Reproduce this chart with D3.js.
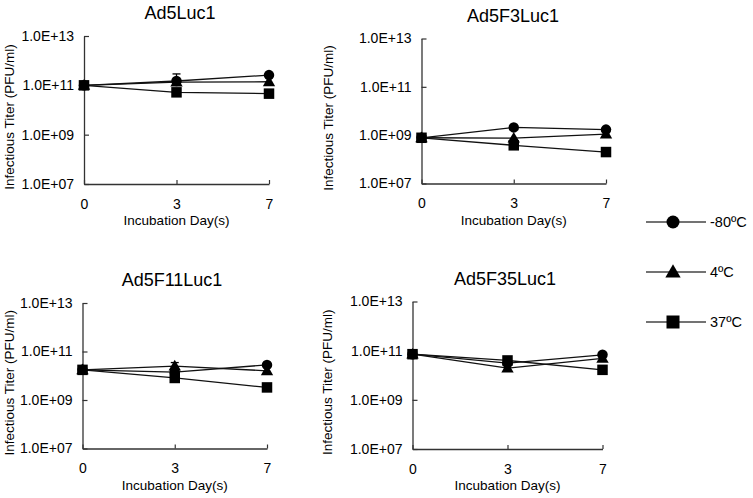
<!DOCTYPE html>
<html>
<head>
<meta charset="utf-8">
<script src="https://cdn.jsdelivr.net/npm/d3@7"></script>
<style>
  body { margin: 0; background: #fff; }
  svg { display: block; font-family: "Liberation Sans", Arial, sans-serif; }
</style>
</head>
<body>
<div id="chart"></div>
<script>
// categories (x) and series
const days = ["0", "3", "7"];
const seriesNames = ["-80ºC", "4ºC", "37ºC"];
const yTicks = [1e7, 1e9, 1e11, 1e13];
const panelNames = ["Ad5Luc1", "Ad5F3Luc1", "Ad5F11Luc1", "Ad5F35Luc1"];

// infectious titer (PFU/ml)
const ad5Luc1_m80 = [1.0e11, 1.5e11, 2.6e11];
const ad5Luc1_4 = [1.0e11, 1.35e11, 1.4e11];
const ad5Luc1_37 = [1.0e11, 5.2e10, 4.6e10];

const ad5F3Luc1_m80 = [7.8e8, 2.1e9, 1.7e9];
const ad5F3Luc1_4 = [7.8e8, 7.5e8, 1.1e9];
const ad5F3Luc1_37 = [7.8e8, 3.8e8, 2.0e8];

const ad5F11Luc1_m80 = [1.75e10, 1.4e10, 2.8e10];
const ad5F11Luc1_4 = [1.75e10, 2.5e10, 1.6e10];
const ad5F11Luc1_37 = [1.75e10, 8.1e9, 3.3e9];

const ad5F35Luc1_m80 = [7.2e10, 3.1e10, 6.8e10];
const ad5F35Luc1_4 = [7.2e10, 1.95e10, 4.9e10];
const ad5F35Luc1_37 = [7.2e10, 4.0e10, 1.66e10];

// upper error bars that can be seen
const errorBars = [
  { panel: 0, series: 0, day: "3", upper: 2.9e11 },
  { panel: 2, series: 1, day: "3", upper: 3.5e10 }
];

const panelData = [
  [ad5Luc1_m80, ad5Luc1_4, ad5Luc1_37],
  [ad5F3Luc1_m80, ad5F3Luc1_4, ad5F3Luc1_37],
  [ad5F11Luc1_m80, ad5F11Luc1_4, ad5F11Luc1_37],
  [ad5F35Luc1_m80, ad5F35Luc1_4, ad5F35Luc1_37]
];

// layout of each panel's plot area
const layout = [
  { left: 84, top: 36, width: 185, height: 148, yLab: 9.5, titleX: 180 },
  { left: 421.5, top: 38.5, width: 184.5, height: 145, yLab: 328.5, titleX: 513 },
  { left: 82.5, top: 303, width: 184.5, height: 145.5, yLab: 9.5, titleX: 172 },
  { left: 412.5, top: 301.5, width: 190, height: 147.5, yLab: 327.5, titleX: 505 }
];

const W = 753, H = 498;
const svg = d3.select("#chart").append("svg")
  .attr("width", W)
  .attr("height", H);

const fmt = d => "1.0E+" + String(Math.round(Math.log10(d))).padStart(2, "0");

function marker(sel, kind, size) {
  if (kind === 0) {
    sel.append("circle").attr("r", size / 2).attr("fill", "#000");
  } else if (kind === 1) {
    const s = d3.symbol().type(d3.symbolTriangle).size(size * size * 0.6);
    sel.append("path").attr("d", s).attr("fill", "#000")
      .attr("transform", "translate(0," + (size * 0.08) + ")");
  } else {
    sel.append("rect")
      .attr("x", -size / 2).attr("y", -size / 2)
      .attr("width", size).attr("height", size)
      .attr("fill", "#000");
  }
}

panelNames.forEach((name, p) => {
  const L = layout[p];
  const g = svg.append("g")
    .attr("transform", "translate(" + L.left + "," + L.top + ")");

  const x = d3.scalePoint().domain(days).range([0, L.width]);
  const y = d3.scaleLog().domain([1e7, 1e13]).range([L.height, 0]);

  // axes
  const yAxis = d3.axisLeft(y)
    .tickValues(yTicks)
    .tickFormat(fmt)
    .tickSizeInner(-5)
    .tickSizeOuter(0)
    .tickPadding(10);
  const xAxis = d3.axisBottom(x)
    .tickSizeInner(-4)
    .tickSizeOuter(0)
    .tickPadding(15);

  const ya = g.append("g").call(yAxis);
  const xa = g.append("g").attr("transform", "translate(0," + L.height + ")").call(xAxis);
  [ya, xa].forEach(a => {
    a.select(".domain").attr("stroke", "#333").attr("stroke-width", 1.3);
    a.selectAll(".tick line").attr("stroke", "#333").attr("stroke-width", 1.2);
    a.selectAll(".tick text")
      .attr("fill", "#000")
      .style("font-size", "14px")
      .style("font-family", "'Liberation Sans', Arial, sans-serif");
  });

  // lines and markers
  const line = d3.line()
    .x((d, i) => x(days[i]))
    .y(d => y(d));

  panelData[p].forEach((vals, s) => {
    g.append("path")
      .datum(vals)
      .attr("d", line)
      .attr("fill", "none")
      .attr("stroke", "#111")
      .attr("stroke-width", 1.3);
  });

  errorBars.filter(e => e.panel === p).forEach(e => {
    const v = panelData[p][e.series][days.indexOf(e.day)];
    const cx = x(e.day);
    g.append("line")
      .attr("x1", cx).attr("x2", cx)
      .attr("y1", y(v)).attr("y2", y(e.upper))
      .attr("stroke", "#000").attr("stroke-width", 1.3);
    g.append("line")
      .attr("x1", cx - 4).attr("x2", cx + 4)
      .attr("y1", y(e.upper)).attr("y2", y(e.upper))
      .attr("stroke", "#000").attr("stroke-width", 1.3);
  });

  panelData[p].forEach((vals, s) => {
    vals.forEach((v, i) => {
      const m = g.append("g")
        .attr("transform", "translate(" + x(days[i]) + "," + y(v) + ")");
      marker(m, s, 10.5);
    });
  });

  // titles
  svg.append("text")
    .attr("x", L.titleX)
    .attr("y", L.top - 17)
    .attr("text-anchor", "middle")
    .style("font-size", "18px")
    .text(name);

  svg.append("text")
    .attr("x", L.left + x("3"))
    .attr("y", L.top + L.height + 41)
    .attr("text-anchor", "middle")
    .style("font-size", "13.5px")
    .text("Incubation Day(s)");

  svg.append("text")
    .attr("transform", "translate(" + L.yLab + "," + (L.top + L.height / 2 + 7) + ") rotate(-90)")
    .attr("dy", "0.35em")
    .attr("text-anchor", "middle")
    .style("font-size", "13.5px")
    .text("Infectious Titer (PFU/ml)");
});

// legend
const legendY = [222, 272, 322];
const legend = svg.append("g");
seriesNames.forEach((n, s) => {
  const row = legend.append("g").attr("transform", "translate(0," + legendY[s] + ")");
  row.append("line")
    .attr("x1", 646).attr("x2", 706)
    .attr("stroke", "#444").attr("stroke-width", 1.3);
  const m = row.append("g").attr("transform", "translate(673,0)");
  marker(m, s, 13);
  row.append("text")
    .attr("x", 710)
    .attr("dy", "0.35em")
    .style("font-size", "14.5px")
    .text(n);
});
</script>
</body>
</html>
